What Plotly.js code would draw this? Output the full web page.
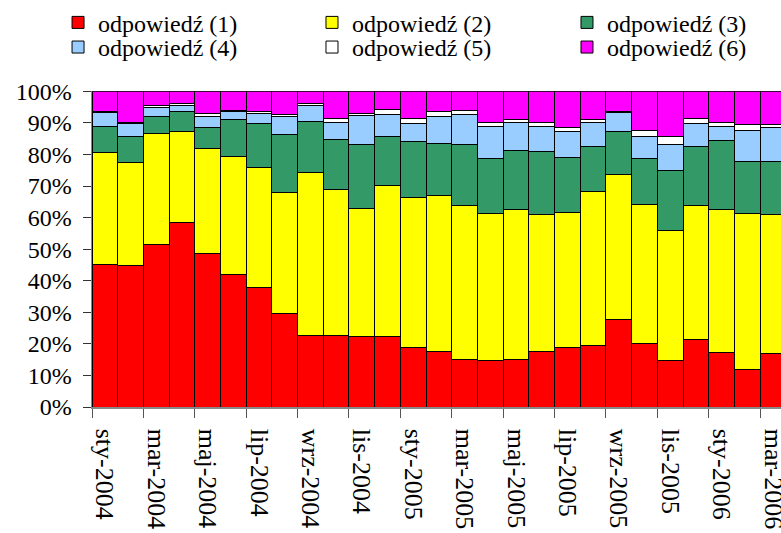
<!DOCTYPE html>
<html>
<head>
<meta charset="utf-8">
<script src="https://cdn.plot.ly/plotly-3.0.1.min.js"></script>
<style>html,body{margin:0;padding:0;background:#fff;}#chart{width:781px;height:533px;}</style>
</head>
<body>
<div id="chart"></div>
<script>
const months = ["sty-2004","lut-2004","mar-2004","kwi-2004","maj-2004","cze-2004","lip-2004","sie-2004","wrz-2004","paź-2004","lis-2004","gru-2004",
  "sty-2005","lut-2005","mar-2005","kwi-2005","maj-2005","cze-2005","lip-2005","sie-2005","wrz-2005","paź-2005","lis-2005","gru-2005",
  "sty-2006","lut-2006","mar-2006"];
const seriesNames = ["odpowiedź (1)","odpowiedź (2)","odpowiedź (3)","odpowiedź (4)","odpowiedź (5)","odpowiedź (6)"];
const odp1 = [45.3,44.9,51.5,58.5,48.6,42.0,37.9,29.6,22.5,22.5,22.2,22.2,18.9,17.6,15.1,14.7,15.1,17.6,18.9,19.6,27.6,20.1,14.7,21.3,17.2,11.8,16.8];
const odp2 = [35.4,32.6,35.1,28.8,33.4,37.5,37.9,38.3,51.7,46.3,40.8,47.9,47.5,49.5,48.7,46.6,47.5,43.4,42.7,48.7,46.1,44.2,41.3,42.4,45.4,49.5,44.2];
const odp3 = [8.3,8.2,5.3,6.2,6.5,11.5,14.0,18.3,16.2,16.1,20.2,15.5,17.7,16.5,19.4,17.4,18.6,19.8,17.4,14.1,13.6,14.4,18.9,18.7,21.8,16.6,16.9];
const odp4 = [4.3,4.2,2.9,2.1,3.6,2.5,3.3,5.8,5.2,5.2,9.1,7.1,5.7,8.4,9.4,10.3,8.9,8.2,8.3,7.7,6.0,6.9,8.3,7.3,4.6,9.8,10.7];
const odp5 = [0.3,0.2,0.6,0.4,0.9,0.4,0.5,0.6,0.4,1.4,0.8,1.6,1.6,1.6,1.3,1.1,0.9,1.1,1.1,0.9,0.4,2.1,2.4,1.7,1.0,1.9,1.0];
const odp6 = [6.4,9.9,4.6,4.0,7.0,6.1,6.4,7.4,4.0,8.5,6.9,5.7,8.6,6.4,6.1,9.9,9.0,9.9,11.6,9.0,6.3,12.3,14.4,8.6,10.0,10.4,10.4];
const yTickVals = [0,10,20,30,40,50,60,70,80,90,100];
const yTickText = ["0%","10%","20%","30%","40%","50%","60%","70%","80%","90%","100%"];

const values = [odp1,odp2,odp3,odp4,odp5,odp6];
const colors = ["#FF0000","#FFFF00","#339966","#99CCFF","#FFFFFF","#FF00FF"];
const legendIds = ["legend","legend2","legend3","legend4","legend5","legend6"];

const traces = values.map((v,i)=>({
  type:"bar", name:seriesNames[i], x:months, y:v,
  legend: legendIds[i],
  marker:{color:colors[i], line:{color:"#000", width:1}},
  hoverinfo:"skip"
}));

const serif = "Liberation Serif";
// legend placement: 3 columns x 2 rows
const legX = [-0.0493, 0.3193, 0.6894];
const legY = [0.951, 0.89];

const layout = {
  width:781, height:533,
  margin:{l:92, r:0, t:0, b:126},
  paper_bgcolor:"#fff", plot_bgcolor:"#fff",
  barmode:"stack", bargap:0,
  font:{family:serif, size:22, color:"#000"},
  showlegend:true,
  xaxis:{type:"category", range:[-0.5,26.31], tickmode:"linear", tick0:0, dtick:2,
    tickson:"boundaries", ticks:"outside", ticklen:9, tickcolor:"#555", tickwidth:1,
    tickangle:90, ticklabelstandoff:15, showgrid:false, zeroline:false,
    showline:true, linecolor:"#888", linewidth:1.5,
    tickfont:{family:serif, size:26, color:"#000"}, fixedrange:true},
  yaxis:{domain:[0,0.7813], range:[0,100], tickmode:"array", tickvals:yTickVals, ticktext:yTickText,
    ticks:"outside", ticklen:8, tickcolor:"#333", tickwidth:1, ticklabelstandoff:6,
    showgrid:false, zeroline:false, showline:true, linecolor:"#888", linewidth:1.5,
    tickfont:{family:serif, size:24, color:"#000"}, fixedrange:true},
  shapes:[{type:"line", xref:"paper", yref:"y", x0:0, x1:1, y0:100, y1:100, line:{color:"#999", width:1.5}, layer:"below"}]
};
legendIds.forEach((id,i)=>{
  layout[id] = {orientation:"h", x:legX[i%3], xanchor:"left", y:legY[Math.floor(i/3)], yanchor:"middle",
    font:{family:serif, size:24, color:"#000"}, bgcolor:"rgba(0,0,0,0)", borderwidth:0};
});
Plotly.newPlot("chart", traces, layout, {staticPlot:true, displayModeBar:false});
</script>
</body>
</html>
